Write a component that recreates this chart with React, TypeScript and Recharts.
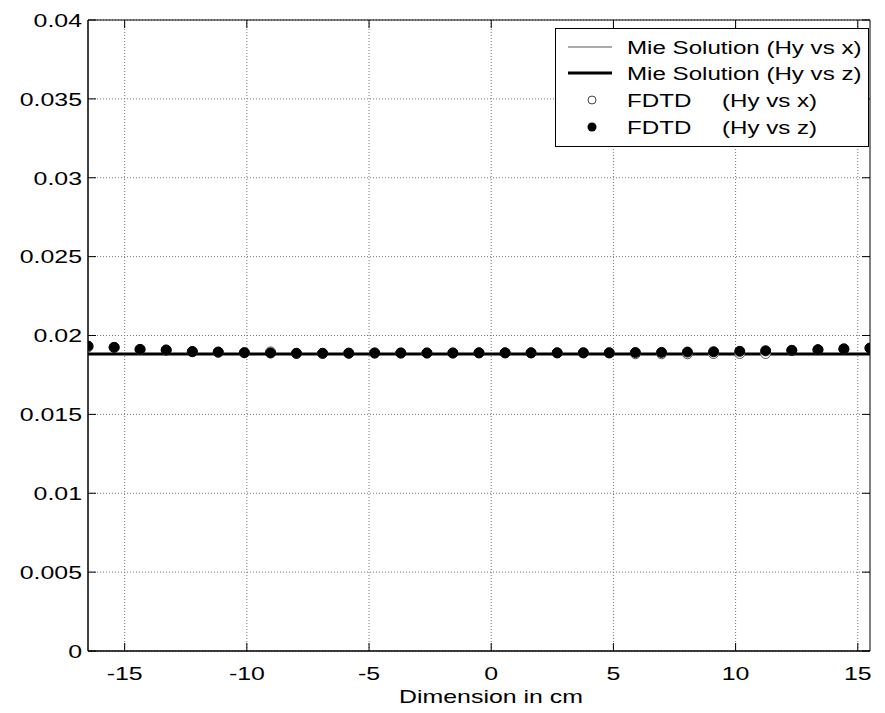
import { ComposedChart, Line, XAxis, YAxis, CartesianGrid, Legend, ReferenceArea } from "recharts"

// sample positions along the cut through the sphere (cm)
const positions = [
  -16.5, -15.43, -14.37, -13.3, -12.23, -11.17, -10.1, -9.03, -7.97, -6.9, -5.83,
  -4.77, -3.7, -2.63, -1.57, -0.5, 0.57, 1.63, 2.7, 3.77, 4.83, 5.9,
  6.97, 8.03, 9.1, 10.17, 11.23, 12.3, 13.37, 14.43, 15.5,
]

const mieHyX = [
  0.01883, 0.01883, 0.01883, 0.01883, 0.01883, 0.01883, 0.01883, 0.01883, 0.01883, 0.01883, 0.01883,
  0.01883, 0.01883, 0.01883, 0.01883, 0.01883, 0.01883, 0.01883, 0.01883, 0.01883, 0.01883, 0.01883,
  0.01883, 0.01883, 0.01883, 0.01883, 0.01883, 0.01883, 0.01883, 0.01883, 0.01883,
]

const mieHyZ = [
  0.01883, 0.01883, 0.01883, 0.01883, 0.01883, 0.01883, 0.01883, 0.01883, 0.01883, 0.01883, 0.01883,
  0.01883, 0.01883, 0.01883, 0.01883, 0.01883, 0.01883, 0.01883, 0.01883, 0.01883, 0.01883, 0.01883,
  0.01883, 0.01883, 0.01883, 0.01883, 0.01883, 0.01883, 0.01883, 0.01883, 0.01883,
]

const fdtdHyX = [
  0.01928, 0.01924, 0.01911, 0.01907, 0.01897, 0.01894, 0.01891, 0.01896, 0.01887, 0.01887, 0.01888,
  0.01889, 0.01889, 0.01889, 0.01889, 0.0189, 0.0189, 0.0189, 0.0189, 0.0189, 0.0189, 0.01884,
  0.01884, 0.01884, 0.01886, 0.01886, 0.01886, 0.01905, 0.0191, 0.01915, 0.0192,
]

const fdtdHyZ = [
  0.01933, 0.01925, 0.01912, 0.01908, 0.01898, 0.01895, 0.01891, 0.01889, 0.01887, 0.01887, 0.01888,
  0.01889, 0.01889, 0.01889, 0.01889, 0.0189, 0.0189, 0.0189, 0.0189, 0.0189, 0.0189, 0.01892,
  0.01893, 0.01895, 0.01897, 0.019, 0.01903, 0.01906, 0.0191, 0.01915, 0.0192,
]

const xTicks = [-15, -10, -5, 0, 5, 10, 15]
const yTicks = [0, 0.005, 0.01, 0.015, 0.02, 0.025, 0.03, 0.035, 0.04]
const yTickLabels = ["0", "0.005", "0.01", "0.015", "0.02", "0.025", "0.03", "0.035", "0.04"]

const rows = positions.map((x, i) => ({
  x,
  mieX: mieHyX[i],
  mieZ: mieHyZ[i],
  fdtdX: fdtdHyX[i],
  fdtdZ: fdtdHyZ[i],
}))

const W = 885
const H = 713
const LEFT = 88
const RIGHT = 15
const TOP = 20
const XAXIS_H = 62
const PLOT_W = W - LEFT - RIGHT
const PLOT_H = H - TOP - XAXIS_H
const FONT = "'Liberation Sans', Arial, sans-serif"
const FONT_SIZE = 19
// the original figure's lettering is horizontally stretched
const STRETCH = 1.31

function StretchText({ x, y, anchor = "start", sx = STRETCH, children }: any) {
  return (
    <text
      transform={`translate(${x} ${y}) scale(${sx} 1)`}
      x={0}
      y={0}
      textAnchor={anchor}
      fontSize={FONT_SIZE}
      fontFamily={FONT}
      fill="#000"
    >
      {children}
    </text>
  )
}

function YTick(props: any) {
  const { x, y, payload } = props
  const label = yTickLabels[yTicks.indexOf(payload.value)] ?? String(payload.value)
  return (
    <g>
      <line x1={x} y1={y} x2={x + 8} y2={y} stroke="#000" />
      <line x1={x + PLOT_W} y1={y} x2={x + PLOT_W - 8} y2={y} stroke="#000" />
      <StretchText x={x - 6} y={y + 6.8} anchor="end">{label}</StretchText>
    </g>
  )
}

function XTick(props: any) {
  const { x, y, payload } = props
  return (
    <g>
      <line x1={x} y1={y} x2={x} y2={y - 8} stroke="#000" />
      <line x1={x} y1={y - PLOT_H} x2={x} y2={y - PLOT_H + 8} stroke="#000" />
      <StretchText x={x} y={y + 29} anchor="middle">{payload.value}</StretchText>
    </g>
  )
}

function XLabel() {
  return (
    <StretchText x={491} y={H - 10} anchor="middle">
      Dimension in cm
    </StretchText>
  )
}

function LegendBox() {
  const s = 1.27
  return (
    <svg width={314} height={119} style={{ display: "block" }}>
      <rect x={0.5} y={0.5} width={313} height={118} fill="#fff" stroke="#000" />
      <line x1={13} y1={19} x2={57} y2={19} stroke="#555" strokeWidth={1} />
      <StretchText x={72} y={25.8} sx={s}>Mie Solution (Hy vs x)</StretchText>
      <line x1={13} y1={45} x2={57} y2={45} stroke="#000" strokeWidth={3} />
      <StretchText x={72} y={51.8} sx={s}>Mie Solution (Hy vs z)</StretchText>
      <circle cx={37} cy={72} r={4} fill="#fff" stroke="#444" />
      <StretchText x={72} y={78.8} sx={s}>FDTD</StretchText>
      <StretchText x={167} y={78.8} sx={s}>(Hy vs x)</StretchText>
      <circle cx={37} cy={99} r={4.5} fill="#000" />
      <StretchText x={72} y={105.8} sx={s}>FDTD</StretchText>
      <StretchText x={167} y={105.8} sx={s}>(Hy vs z)</StretchText>
    </svg>
  )
}

export default function App() {
  return (
    <div style={{ position: "absolute", left: 0, top: 0, background: "#fff" }}>
      <ComposedChart width={W} height={H} data={rows} margin={{ top: TOP, right: RIGHT, bottom: 0, left: 0 }}>
        <CartesianGrid stroke="#777" strokeDasharray="1 2" horizontalValues={yTicks} verticalValues={xTicks} />
        <XAxis
          dataKey="x"
          type="number"
          domain={[-16.5, 15.5]}
          ticks={xTicks}
          allowDataOverflow
          height={XAXIS_H}
          stroke="#000"
          tickLine={false}
          tickSize={0}
          tickMargin={0}
          tick={<XTick />}
          label={<XLabel />}
        />
        <YAxis
          type="number"
          domain={[0, 0.04]}
          ticks={yTicks}
          allowDataOverflow
          width={LEFT}
          stroke="#000"
          tickLine={false}
          tickSize={0}
          tickMargin={0}
          tick={<YTick />}
        />
        <ReferenceArea x1={-16.5} x2={15.5} y1={0} y2={0.04} fill="none" stroke="#000" strokeWidth={1} />
        <Line
          type="linear"
          dataKey="mieX"
          name="Mie Solution (Hy vs x)"
          stroke="#555"
          strokeWidth={1}
          dot={false}
          isAnimationActive={false}
        />
        <Line
          type="linear"
          dataKey="mieZ"
          name="Mie Solution (Hy vs z)"
          stroke="#000"
          strokeWidth={3}
          dot={false}
          isAnimationActive={false}
        />
        <Line
          type="linear"
          dataKey="fdtdX"
          name="FDTD (Hy vs x)"
          stroke="none"
          dot={{ r: 5, fill: "#fff", stroke: "#555", strokeWidth: 1 }}
          isAnimationActive={false}
        />
        <Line
          type="linear"
          dataKey="fdtdZ"
          name="FDTD (Hy vs z)"
          stroke="none"
          dot={{ r: 5, fill: "#000", stroke: "#000", strokeWidth: 1 }}
          isAnimationActive={false}
        />
        <Legend
          layout="horizontal"
          verticalAlign="middle"
          align="center"
          content={() => <LegendBox />}
          wrapperStyle={{ position: "absolute", left: 555, top: 28, width: 314, height: 119 }}
        />
      </ComposedChart>
    </div>
  )
}
